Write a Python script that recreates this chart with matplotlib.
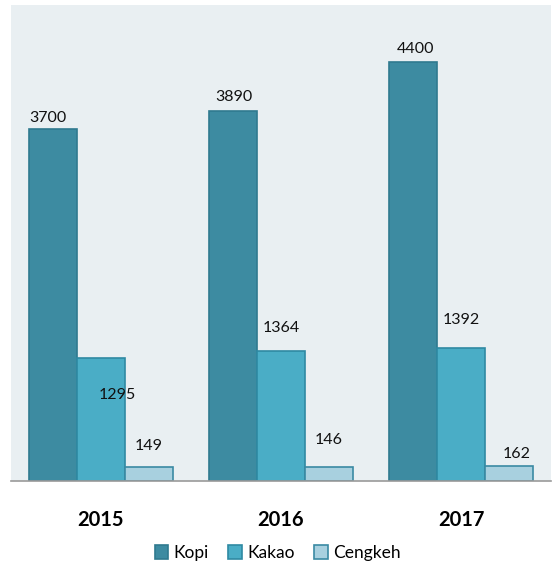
import numpy as np
import matplotlib.pyplot as plt

# production figures per year
years = ["2015", "2016", "2017"]
kopi = [3700, 3890, 4400]
kakao = [1295, 1364, 1392]
cengkeh = [149, 146, 162]

series_names = ["Kopi", "Kakao", "Cengkeh"]
face_colors = ["#3d8ba1", "#4aadc6", "#a8d0df"]
edge_colors = ["#2f7a8f", "#2f8aa3", "#3a8aa3"]

# label nudges (pixels, relative to the top-centre of each bar)
label_nudge = [
    [(-5, 11), (1, 14), (3, 13)],
    [(16, -37), (0, 23), (0, 28)],
    [(0, 21), (0, 27), (8, 12)],
]

plt.rcParams['font.family'] = ['Lato', 'DejaVu Sans']

fig = plt.figure(figsize=(5.55, 5.64), dpi=100)
ax = fig.add_axes([11 / 555, 83 / 564, 540 / 555, 476 / 564])
ax.set_facecolor("#e9eff2")

x = np.arange(len(years))
width = 0.267
all_series = [kopi, kakao, cengkeh]

for i, (vals, name) in enumerate(zip(all_series, series_names)):
    pos = x + (i - 1) * width
    bars = ax.bar(pos, vals, width, color=face_colors[i],
                  edgecolor=edge_colors[i], linewidth=1.2, label=name)
    for b, v, (dx, dy) in zip(bars, vals, label_nudge[i]):
        ax.annotate(str(v), (b.get_x() + b.get_width() / 2, v),
                    xytext=(dx * 0.72, dy * 0.72), textcoords="offset points",
                    ha="center", va="center", fontsize=11.5, color="#111111")

ax.set_xlim(-0.5, 2.5)
ax.set_ylim(0, 5000)
ax.set_yticks([])
ax.set_xticks(x)
ax.set_xticklabels(years, fontsize=14.5, fontweight="bold")
ax.tick_params(axis="x", length=0, pad=21)

for side in ["top", "right", "left"]:
    ax.spines[side].set_visible(False)
ax.spines["bottom"].set_color("#9a9a9a")
ax.spines["bottom"].set_linewidth(1.2)

fig.legend(loc="center", bbox_to_anchor=(0.5, 0.0195), ncol=3, frameon=False,
           fontsize=12.5, handlelength=0.8, handleheight=0.8,
           handletextpad=0.3, columnspacing=1.1)

fig.savefig("out.png", dpi=100)
